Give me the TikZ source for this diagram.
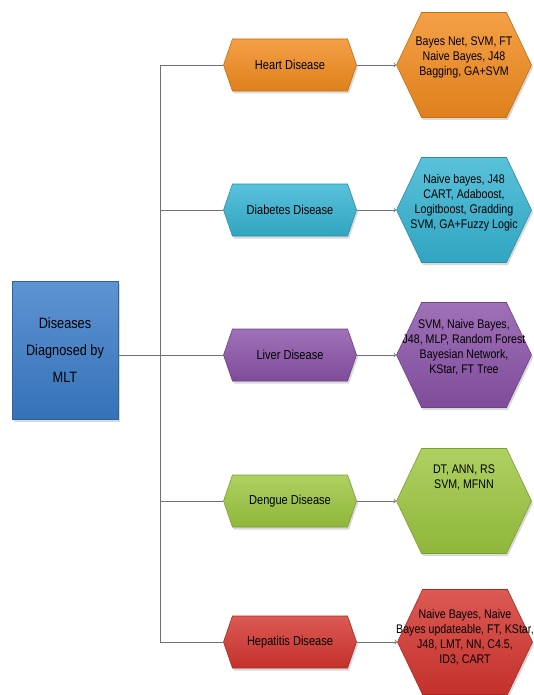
\documentclass[tikz,border=0pt]{standalone}
\usepackage{fontspec}
\setmainfont{Liberation Sans}[FakeStretch=0.85]
\usetikzlibrary{arrows}
\usetikzlibrary{shapes.symbols, shadows}
\definecolor{hd}{HTML}{F28B1E}
\definecolor{dd}{HTML}{35B3D2}
\definecolor{ld}{HTML}{8A52A8}
\definecolor{gd}{HTML}{9CC63F}
\definecolor{rd}{HTML}{D5352F}
\definecolor{bd}{HTML}{3A7CC9}
\definecolor{ln}{HTML}{707070}
\tikzstyle{shade}=[drop shadow={shadow xshift=1.5pt, shadow yshift=-2.5pt, opacity=.3}]
\tikzstyle{dis}=[signal, signal to=east and west, signal pointer angle=142,
  minimum width=133pt, minimum height=52pt, inner sep=0pt, shade,
  font=\fontsize{13}{15}\selectfont, text=black]
\tikzstyle{alg}=[signal, signal to=east and west, signal pointer angle=129,
  minimum width=135pt, minimum height=105pt, inner ysep=0pt, inner xsep=-30pt,
  shade, align=center,
  font=\fontsize{12.5}{15}\selectfont, text=black, text depth=18pt]
\tikzstyle{line}=[draw=ln, line width=.8pt]
\tikzset{paint/.style={top color=#1!82!white, bottom color=#1!92!black, draw=#1!80!black, line width=.6pt}}

\begin{document}
\begin{tikzpicture}[x=1pt, y=-1pt]
  \useasboundingbox (0,0) rectangle (533,695);

  \node[rectangle, paint=bd, shade, minimum width=106pt, minimum height=138pt,
        align=center, font=\fontsize{15}{27}\selectfont, text=black]
        (mlt) at (65,350) {Diseases\\Diagnosed by\\MLT};

  % diseases
  \node[dis, paint=hd] (heart) at (290,65) {Heart Disease};
  \node[dis, paint=dd] (diabetes) at (290,210) {Diabetes Disease};
  \node[dis, paint=ld] (liver) at (290,355) {Liver Disease};
  \node[dis, paint=gd] (dengue) at (290,501) {Dengue Disease};
  \node[dis, paint=rd] (hepatitis) at (290,642) {Hepatitis Disease};

  % techniques
  \node[alg, paint=hd] (heart-alg) at (464,65)
    {Bayes Net, SVM, FT\\Naive Bayes, J48\\Bagging, GA+SVM};
  \node[alg, paint=dd] (diabetes-alg) at (464,210)
    {Naive bayes, J48\\CART, Adaboost,\\Logitboost, Gradding\\SVM, GA+Fuzzy Logic};
  \node[alg, paint=ld] (liver-alg) at (464,355)
    {SVM, Naive Bayes,\\J48, MLP, Random Forest\\Bayesian Network,\\KStar, FT Tree};
  \node[alg, paint=gd, text depth=48pt] (dengue-alg) at (464,501)
    {DT, ANN, RS\\SVM, MFNN};
  \node[alg, paint=rd, text depth=12pt] (hepatitis-alg) at (465,642)
    {Naive Bayes, Naive\\Bayes updateable, FT, KStar,\\J48, LMT, NN, C4.5,\\ID3, CART};

  % trunk
  \coordinate (top) at (160,65);
  \coordinate (bot) at (160,642);
  \draw[line] (top) -- (bot);
  \draw[line] (mlt.east |- liver.west) -- (top |- liver.west);

  \foreach \d in {heart, diabetes, liver, dengue, hepatitis}
    \draw[line] (top |- \d.west) -- (\d.west);

  \foreach \d in {heart, diabetes, liver, dengue, hepatitis}
    \draw[line, ->] (\d.east) -- (\d-alg.west);

\end{tikzpicture}
\end{document}
